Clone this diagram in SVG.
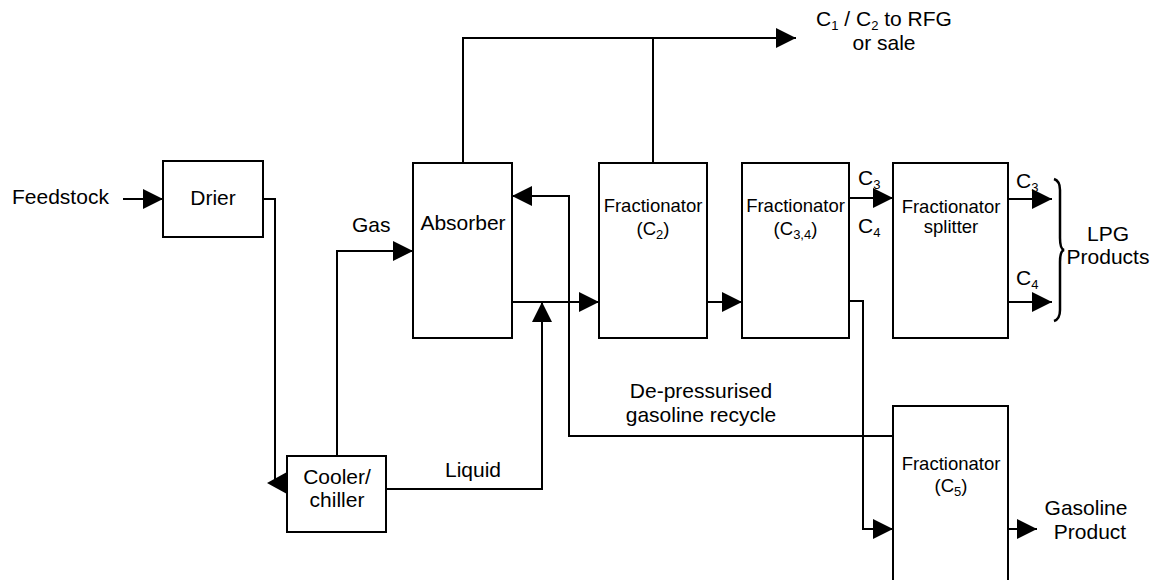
<svg xmlns="http://www.w3.org/2000/svg" width="1156" height="580" viewBox="0 0 1156 580">
<style>
.box{fill:#fff;stroke:#000;stroke-width:2}
.ln{fill:none;stroke:#000;stroke-width:2}
text{font-family:"Liberation Sans",Arial,sans-serif;fill:#000}
.t{font-size:21px}
.f{font-size:18.5px}
.s{font-size:13px}
</style>
<defs>
<marker id="ah" markerUnits="userSpaceOnUse" markerWidth="20" markerHeight="20" refX="20" refY="10" orient="auto">
<path d="M0,0 L20,10 L0,20 Z" fill="#000"/>
</marker>
</defs>
<rect width="1156" height="580" fill="#fff"/>
<g id="connectors">
<path class="ln" d="M123,199 H163" marker-end="url(#ah)"/>
<path class="ln" d="M263,199 H275 V483"/>
<polygon points="267,483 287,472 287,494" fill="#000"/>
<path class="ln" d="M337,456 V251 H413" marker-end="url(#ah)"/>
<path class="ln" d="M386,489 H542 V302" marker-end="url(#ah)"/>
<path class="ln" d="M512,302 H599" marker-end="url(#ah)"/>
<path class="ln" d="M893,436 H569 V196 H512" marker-end="url(#ah)"/>
<path class="ln" d="M463,163 V38 H796" marker-end="url(#ah)"/>
<path class="ln" d="M653,163 V38"/>
<path class="ln" d="M707,302 H742" marker-end="url(#ah)"/>
<path class="ln" d="M849,198 H893" marker-end="url(#ah)"/>
<path class="ln" d="M849,301 H863 V529 H893" marker-end="url(#ah)"/>
<path class="ln" d="M1008,199 H1052" marker-end="url(#ah)"/>
<path class="ln" d="M1008,302 H1052" marker-end="url(#ah)"/>
<path class="ln" d="M1008,529 H1037" marker-end="url(#ah)"/>
<path d="M1054,179 Q1060,181 1060,190 V238 Q1060,249 1064,250 Q1060,251 1060,262 V310 Q1060,319 1054,321" fill="none" stroke="#000" stroke-width="2.5"/>
</g>
<g id="feedstock"><text class="t" x="12" y="204">Feedstock</text></g>
<g id="drier">
<rect class="box" x="163" y="161" width="100" height="76"/>
<text class="t" x="213" y="205" text-anchor="middle">Drier</text>
</g>
<g id="cooler">
<rect class="box" x="287" y="456" width="99" height="76"/>
<text class="t" x="337" y="484" text-anchor="middle">Cooler/</text>
<text class="t" x="337" y="507" text-anchor="middle">chiller</text>
</g>
<g id="absorber">
<rect class="box" x="413" y="163" width="99" height="175"/>
<text class="t" x="463" y="230" text-anchor="middle">Absorber</text>
</g>
<g id="frac-c2">
<rect class="box" x="599" y="163" width="108" height="175"/>
<text class="f" x="653" y="212" text-anchor="middle">Fractionator</text>
<text class="f" x="653" y="235" text-anchor="middle">(C<tspan class="s" dy="4">2</tspan><tspan dy="-4">)</tspan></text>
</g>
<g id="frac-c34">
<rect class="box" x="742" y="163" width="107" height="175"/>
<text class="f" x="795.5" y="212" text-anchor="middle">Fractionator</text>
<text class="f" x="795.5" y="235" text-anchor="middle">(C<tspan class="s" dy="4">3,4</tspan><tspan dy="-4">)</tspan></text>
</g>
<g id="splitter">
<rect class="box" x="893" y="163" width="115" height="175"/>
<text class="f" x="951" y="213" text-anchor="middle">Fractionator</text>
<text class="f" x="951" y="233" text-anchor="middle">splitter</text>
</g>
<g id="frac-c5">
<rect class="box" x="893" y="406" width="115" height="190"/>
<text class="f" x="951" y="470" text-anchor="middle">Fractionator</text>
<text class="f" x="951" y="492" text-anchor="middle">(C<tspan class="s" dy="4">5</tspan><tspan dy="-4">)</tspan></text>
</g>
<g id="labels">
<text class="t" x="884" y="26" text-anchor="middle">C<tspan class="s" dy="4">1</tspan><tspan dy="-4"> / C</tspan><tspan class="s" dy="4">2</tspan><tspan dy="-4"> to RFG</tspan></text>
<text class="t" x="884" y="50" text-anchor="middle">or sale</text>
<text class="t" x="352" y="232">Gas</text>
<text class="t" x="445" y="477">Liquid</text>
<text class="t" x="701" y="398" text-anchor="middle">De-pressurised</text>
<text class="t" x="701" y="422" text-anchor="middle">gasoline recycle</text>
<text class="t" x="858" y="185">C<tspan class="s" dy="4">3</tspan></text>
<text class="t" x="858" y="233">C<tspan class="s" dy="4">4</tspan></text>
<text class="t" x="1016" y="188">C<tspan class="s" dy="4">3</tspan></text>
<text class="t" x="1016" y="285">C<tspan class="s" dy="4">4</tspan></text>
<text class="t" x="1108" y="241" text-anchor="middle">LPG</text>
<text class="t" x="1108" y="264" text-anchor="middle">Products</text>
<text class="t" x="1086" y="515" text-anchor="middle">Gasoline</text>
<text class="t" x="1090" y="539" text-anchor="middle">Product</text>
</g>
</svg>
